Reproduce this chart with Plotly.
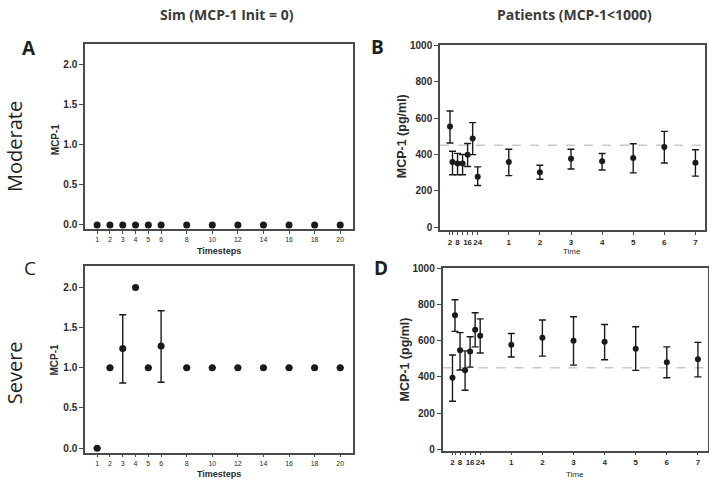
import plotly.graph_objects as go

# ---- data ----
sim_steps = [1, 2, 3, 4, 5, 6, 8, 10, 12, 14, 16, 18, 20]
sim_moderate = [0, 0, 0, 0, 0, 0, 0, 0, 0, 0, 0, 0, 0]
sim_severe = [0, 1, 1.24, 2.0, 1, 1.27, 1, 1, 1, 1, 1, 1, 1]
sim_severe_hi = [None, None, 1.66, None, None, 1.71, None, None, None, None, None, None, None]
sim_severe_lo = [None, None, 0.81, None, None, 0.82, None, None, None, None, None, None, None]

hours = [2, 4, 8, 12, 16, 20, 24]
hour_labels = ["2", "", "8", "", "16", "", "24"]
days = [1, 2, 3, 4, 5, 6, 7]
day_labels = ["1", "2", "3", "4", "5", "6", "7"]

mod_mean = [553, 359, 350, 350, 399, 488, 278, 359, 303, 377, 363, 380, 441, 354]
mod_hi = [639, 418, 406, 400, 460, 575, 332, 429, 341, 429, 405, 459, 527, 426]
mod_lo = [463, 289, 289, 289, 334, 399, 230, 284, 264, 320, 315, 299, 353, 281]

sev_mean = [395, 741, 548, 436, 541, 661, 627, 578, 616, 600, 595, 555, 481, 497]
sev_hi = [521, 827, 645, 544, 622, 755, 721, 640, 715, 733, 690, 677, 566, 591]
sev_lo = [265, 652, 438, 326, 454, 566, 532, 510, 515, 465, 495, 436, 395, 400]

baseline = 450

# ---- style ----
W, H = 709, 483
INK = "#1a1a1a"
AXIS = "#4a4a4a"
TXT = "#2b2b2b"
DASH = "#c8c8c8"
SANS = "Liberation Sans, Arial, sans-serif"
HEAD = "Open Sans, Lato, sans-serif"

# hours squeezed into the first "day" slot, then one slot per day
HOUR_W = 0.0405
time_x = [h * HOUR_W for h in hours] + [24 * HOUR_W + d for d in days]
time_labels = hour_labels + day_labels


def fx(px):
    return px / W


def fy(py):
    return 1 - py / H


def err(mean, hi, lo):
    plus = [None if h is None else h - m for m, h in zip(mean, hi)]
    minus = [None if l is None else m - l for m, l in zip(mean, lo)]
    return dict(type="data", symmetric=False, array=plus, arrayminus=minus,
                color=INK, thickness=1.4, width=3.5)


fig = go.Figure()

# A: moderate sim
fig.add_scatter(x=sim_steps, y=sim_moderate, mode="markers", xaxis="x", yaxis="y",
                marker=dict(color=INK, size=7), showlegend=False)
# B: moderate patients
fig.add_scatter(x=time_x, y=mod_mean, mode="markers", xaxis="x2", yaxis="y2",
                marker=dict(color=INK, size=6), error_y=err(mod_mean, mod_hi, mod_lo),
                showlegend=False)
# C: severe sim
fig.add_scatter(x=sim_steps, y=sim_severe, mode="markers", xaxis="x3", yaxis="y3",
                marker=dict(color=INK, size=7),
                error_y=err(sim_severe, sim_severe_hi, sim_severe_lo), showlegend=False)
# D: severe patients
fig.add_scatter(x=time_x, y=sev_mean, mode="markers", xaxis="x4", yaxis="y4",
                marker=dict(color=INK, size=6), error_y=err(sev_mean, sev_hi, sev_lo),
                showlegend=False)

# dashed reference line at 450 pg/ml
for xa, ya in (("x2", "y2"), ("x4", "y4")):
    fig.add_shape(type="line", xref=f"{xa} domain", yref=ya, x0=0, x1=1,
                  y0=baseline, y1=baseline,
                  line=dict(color=DASH, width=1.5, dash="dash"), layer="below")

ax_common = dict(showline=True, linecolor=AXIS, linewidth=1.5, mirror=True,
                 showgrid=False, zeroline=False, ticks="outside", tickcolor=AXIS,
                 ticklen=4, tickwidth=1.2, tickangle=0, fixedrange=True)

sim_x = dict(ax_common, range=[0.05, 21.0], tickvals=sim_steps,
             ticktext=[str(s) for s in sim_steps],
             tickfont=dict(family=SANS, size=7, color=TXT), ticklen=3)
sim_y = dict(ax_common, range=[-0.055, 2.26], tickvals=[0, 0.5, 1.0, 1.5, 2.0],
             tickformat=".1f", tickfont=dict(family=SANS, size=10, color=TXT, weight="bold"))
pat_x = dict(ax_common, range=[-0.24, 8.28], tickvals=time_x, ticktext=time_labels,
             tickfont=dict(family=SANS, size=8, color=TXT, weight="bold"), ticklen=3)
pat_y = dict(ax_common, tickvals=[0, 200, 400, 600, 800, 1000],
             tickfont=dict(family=SANS, size=10, color=TXT, weight="bold"))

fig.update_layout(
    width=W, height=H,
    paper_bgcolor="white", plot_bgcolor="white",
    margin=dict(l=0, r=0, t=0, b=0),
    font=dict(family=SANS, color=TXT),
    xaxis=dict(sim_x, domain=[fx(85), fx(353)], anchor="y"),
    yaxis=dict(sim_y, domain=[fy(228), fy(39)], anchor="x"),
    xaxis2=dict(pat_x, domain=[fx(440), fx(705)], anchor="y2"),
    yaxis2=dict(pat_y, range=[-16, 1000], domain=[fy(229), fy(40)], anchor="x2"),
    xaxis3=dict(sim_x, domain=[fx(85), fx(353)], anchor="y3"),
    yaxis3=dict(sim_y, domain=[fy(456), fy(266)], anchor="x3"),
    xaxis4=dict(pat_x, domain=[fx(442.5), fx(707.5)], anchor="y4"),
    yaxis4=dict(pat_y, range=[-8, 1000], domain=[fy(454), fy(268)], anchor="x4"),
)


def note(text, x, y, size, bold=True, angle=0, family=SANS, color=TXT):
    fig.add_annotation(text=f"<b>{text}</b>" if bold else text, x=fx(x), y=fy(y),
                       xref="paper", yref="paper", showarrow=False, textangle=angle,
                       font=dict(family=family, size=size, color=color),
                       xanchor="center", yanchor="middle")


# column headers
note("Sim (MCP-1 Init = 0)", 227, 9, 14, family=HEAD, color="#3a3a3a")
note("Patients (MCP-1<1000)", 574, 9, 14, family=HEAD, color="#3a3a3a")

# row labels
note("Moderate", 14, 144, 20, bold=False, angle=-90, family=HEAD, color="#1f1f1f")
note("Severe", 14, 375, 20, bold=False, angle=-90, family=HEAD, color="#1f1f1f")

# panel letters
note("A", 29, 43, 19, family=HEAD, color="#1f1f1f")
note("B", 378, 42, 19, family=HEAD, color="#1f1f1f")
note("C", 30, 268, 19, bold=False, family=HEAD, color="#1f1f1f")
note("D", 381, 268, 19, family=HEAD, color="#1f1f1f")

# axis titles
note("MCP-1", 55, 136, 10, angle=-90)
note("MCP-1", 55, 361, 10, angle=-90)
note("MCP-1 (pg/ml)", 402, 133, 12.5, angle=-90)
note("MCP-1 (pg/ml)", 405, 361, 12.5, angle=-90)
note("Timesteps", 219, 250, 9)
note("Timesteps", 219, 478, 9)
note("Time", 572, 251, 8, bold=False)
note("Time", 575, 478, 8, bold=False)

# page body has a default margin; drop it so the figure sits flush in the window
fig.write_html("out.html", config={"displayModeBar": False},
               post_script="document.body.style.margin='0';")
